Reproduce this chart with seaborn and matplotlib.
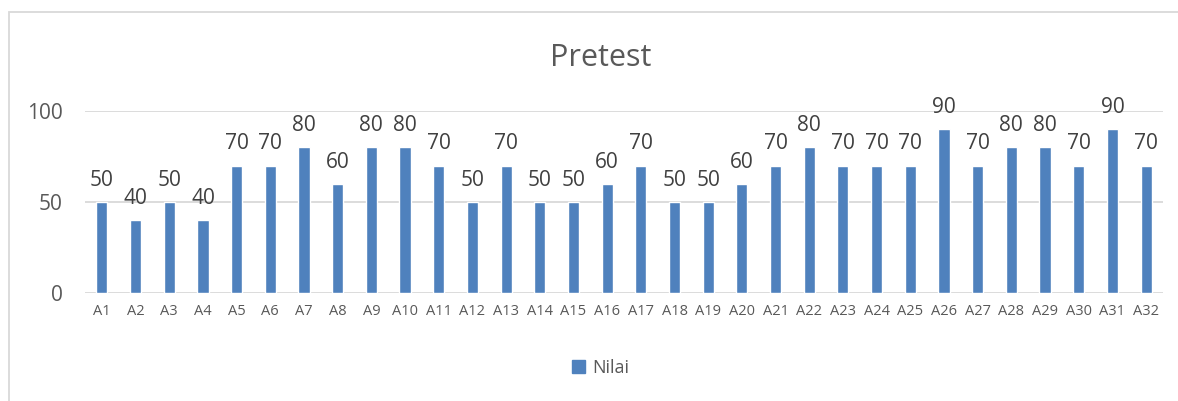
import pandas as pd
import matplotlib.pyplot as plt
import matplotlib.patches as mpatches
import seaborn as sns

# datos
siswa = [f"A{i}" for i in range(1, 33)]
nilai = [50, 40, 50, 40, 70, 70, 80, 60, 80, 80, 70, 50, 70, 50, 50, 60,
         70, 50, 50, 60, 70, 80, 70, 70, 70, 90, 70, 80, 80, 70, 90, 70]
df = pd.DataFrame({"Siswa": siswa, "Nilai": nilai})

sns.set_style("white")
plt.rcParams['font.family'] = ['Open Sans', 'DejaVu Sans']

fig = plt.figure(figsize=(11.78, 4.01), dpi=100)
ax = fig.add_axes([0.0722, 0.2693, 0.9150, 0.4539])

biru = "#4F81BD"
sns.barplot(data=df, x="Siswa", y="Nilai", color=biru, width=0.33,
            saturation=1, ax=ax, label="Nilai", zorder=3)

# etiquetas de valor
for cont in ax.containers:
    ax.bar_label(cont, padding=8, fontsize=15, color="#404040", clip_on=False)

ax.set_ylim(0, 100)
ax.set_xlim(-0.5, len(siswa) - 0.5)
ax.set_yticks([0, 50, 100])
ax.yaxis.grid(True, color="#D9D9D9", linewidth=1.3, zorder=0)
ax.set_axisbelow(True)
for s in ax.spines.values():
    s.set_visible(False)
ax.tick_params(axis='y', labelsize=15, labelcolor="#595959", length=0, pad=16)
ax.tick_params(axis='x', labelsize=10.5, labelcolor="#595959", length=0, pad=8)
ax.set_xlabel("")
ax.set_ylabel("")

fig.text(0.51, 0.855, "Pretest", ha="center", va="center", fontsize=22, color="#595959")

# leyenda
handle = mpatches.Patch(color=biru, label="Nilai")
fig.legend(handles=[handle], loc="center", bbox_to_anchor=(0.51, 0.083), frameon=False,
           fontsize=13, labelcolor="#595959", handlelength=0.7, handleheight=0.7,
           handletextpad=0.4)
if ax.get_legend():
    ax.get_legend().remove()

# borde del grafico
borde = mpatches.Rectangle((9 / 1178, -0.1), 1.2, (401 - 12) / 401 + 0.1,
                           transform=fig.transFigure, fill=False,
                           edgecolor="#D9D9D9", linewidth=1.3)
fig.patches.append(borde)

plt.savefig("out.png", dpi=100)
